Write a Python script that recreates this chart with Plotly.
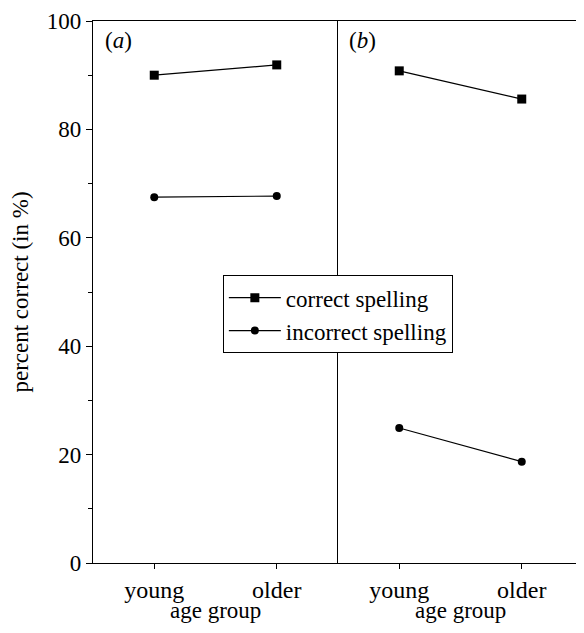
import plotly.graph_objects as go

categories = ["young", "older"]
a_correct = [90.0, 91.9]
a_incorrect = [67.5, 67.7]
b_correct = [90.8, 85.6]
b_incorrect = [24.9, 18.7]
series_names = ["correct spelling", "incorrect spelling"]
x_title = "age group"

FONT = "Liberation Serif"
fig = go.Figure()

line = dict(color="black", width=1.2)
sq = dict(symbol="square", size=9, color="black")
ci = dict(symbol="circle", size=8, color="black")

fig.add_trace(go.Scatter(x=categories, y=a_correct, mode="lines+markers", line=line, marker=sq,
                         name=series_names[0], xaxis="x", yaxis="y"))
fig.add_trace(go.Scatter(x=categories, y=a_incorrect, mode="lines+markers", line=line, marker=ci,
                         name=series_names[1], xaxis="x", yaxis="y"))
fig.add_trace(go.Scatter(x=categories, y=b_correct, mode="lines+markers", line=line, marker=sq,
                         name=series_names[0], xaxis="x2", yaxis="y2", showlegend=False))
fig.add_trace(go.Scatter(x=categories, y=b_incorrect, mode="lines+markers", line=line, marker=ci,
                         name=series_names[1], xaxis="x2", yaxis="y2", showlegend=False))

xcommon = dict(type="category", range=[-0.5, 1.5], showline=True, linecolor="black", linewidth=1.2,
               mirror=True, ticks="outside", ticklen=5, tickcolor="black", showgrid=False,
               zeroline=False, automargin=False, ticklabelstandoff=0,
               tickfont=dict(family=FONT, size=24, color="black"))

tfont = dict(family=FONT, size=23, color="black")
fig.update_layout(
    width=576, height=617,
    margin=dict(l=85, r=1, t=13, b=62),
    paper_bgcolor="white", plot_bgcolor="white",
    font=dict(family=FONT, color="black"),
    xaxis=dict(domain=[0, 0.5], anchor="y", **xcommon),
    xaxis2=dict(domain=[0.5, 1.0], anchor="y2", **xcommon),
    yaxis=dict(range=[0, 100], tickvals=[0, 20, 40, 60, 80, 100], showline=True, linecolor="black",
               linewidth=1.2, ticks="outside", ticklen=6, tickcolor="black", showgrid=False,
               zeroline=False, automargin=False, tickfont=dict(family=FONT, size=23, color="black"),
               minor=dict(ticks="outside", dtick=10, ticklen=4, tickcolor="black", showgrid=False),
               title=dict(text="percent correct (in %)", font=dict(family=FONT, size=23, color="black"),
                          standoff=16)),
    yaxis2=dict(range=[0, 100], anchor="x2", matches="y", showline=True, linecolor="black",
                linewidth=1.2, ticks="", showticklabels=False, showgrid=False, zeroline=False,
                automargin=False),
    legend=dict(x=0.265, y=0.531, xanchor="left", yanchor="top", bgcolor="white",
                bordercolor="black", borderwidth=1, font=dict(family=FONT, size=23, color="black"),
                tracegroupgap=0, itemwidth=52),
    showlegend=True,
    annotations=[
        dict(text="(<i>a</i>)", x=0.02, y=0.99, xref="paper", yref="paper", xanchor="left",
             yanchor="top", showarrow=False, font=dict(family=FONT, size=23, color="black")),
        dict(text="(<i>b</i>)", x=0.518, y=0.99, xref="paper", yref="paper", xanchor="left",
             yanchor="top", showarrow=False, font=dict(family=FONT, size=23, color="black")),
        dict(text=x_title, x=0.25, y=0, xref="paper", yref="paper", xanchor="center",
             yanchor="bottom", yshift=-62, showarrow=False, font=tfont),
        dict(text=x_title, x=0.75, y=0, xref="paper", yref="paper", xanchor="center",
             yanchor="bottom", yshift=-62, showarrow=False, font=tfont),
    ],
)

fig.write_html("out.html")
